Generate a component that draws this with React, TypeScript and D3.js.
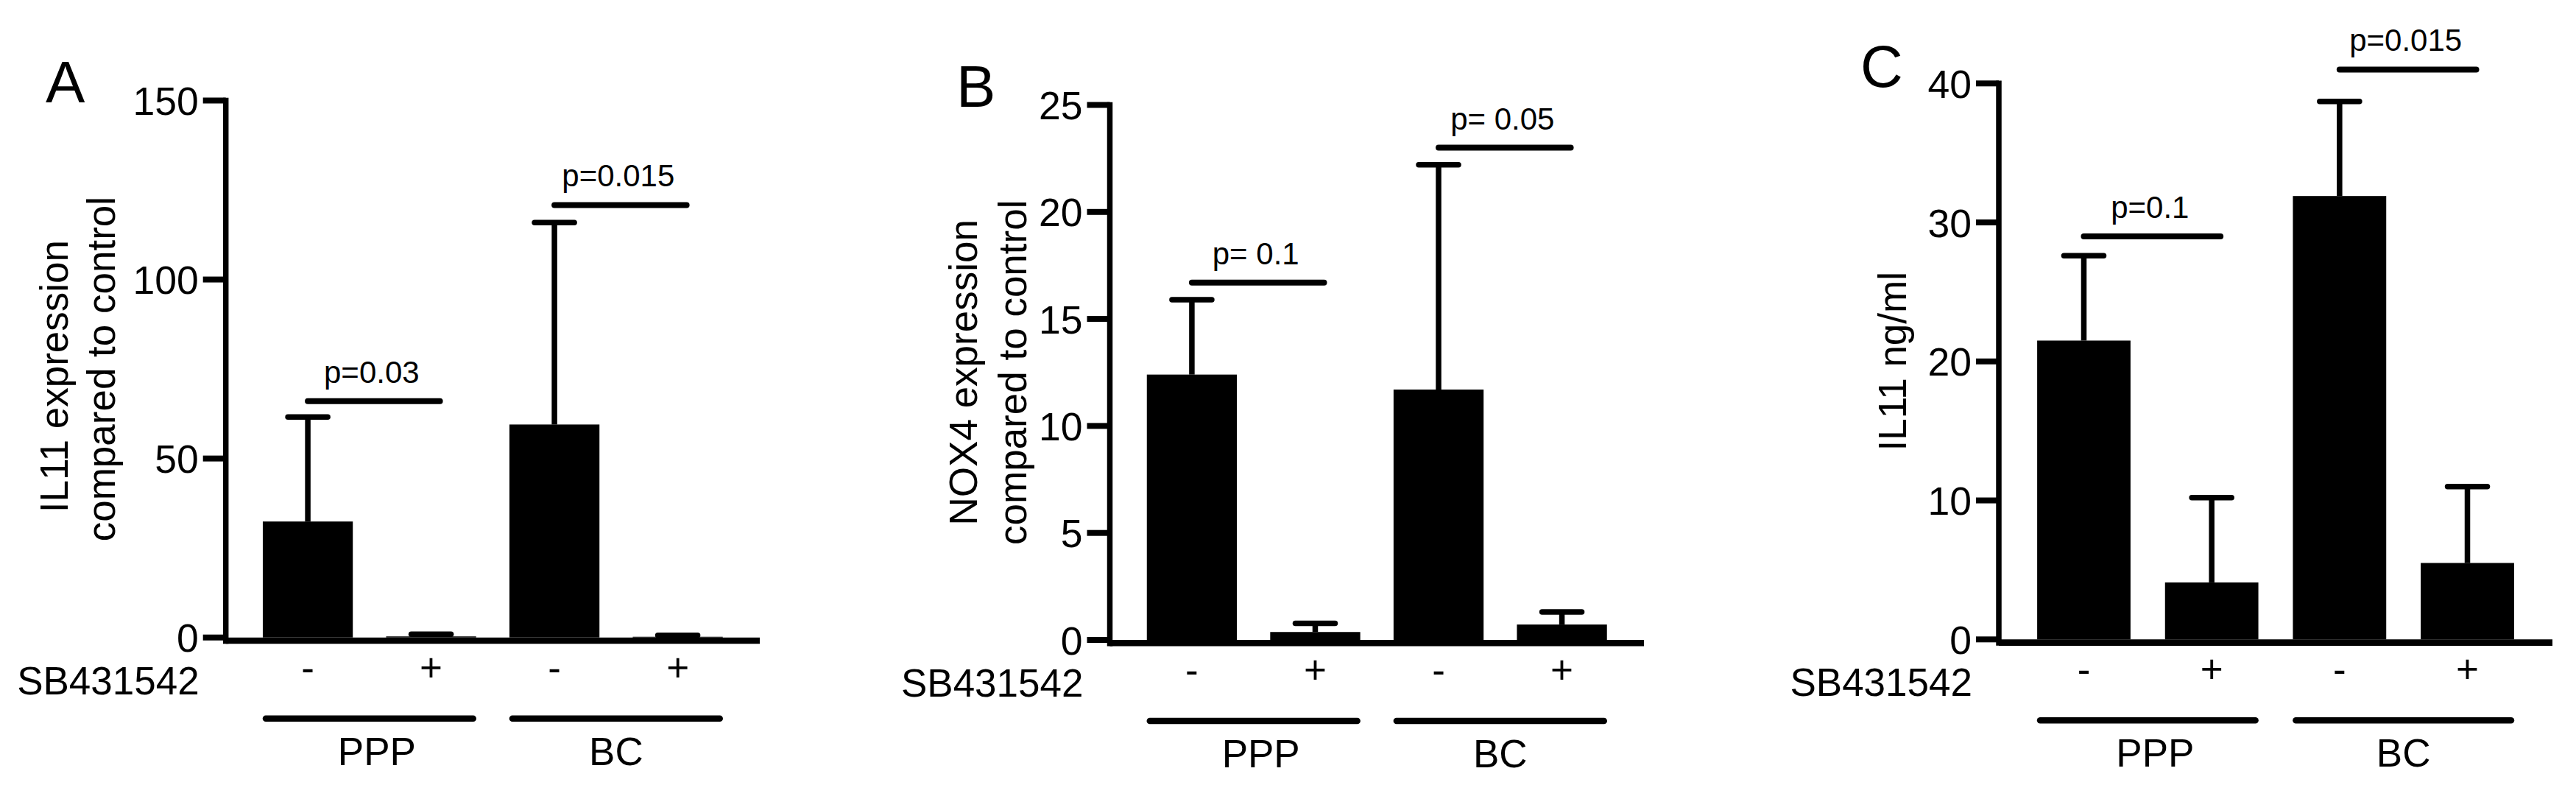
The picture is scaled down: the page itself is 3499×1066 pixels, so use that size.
import React from "react";
import * as d3 from "d3";

// ---------- data ----------
const treatments = ["-", "+", "-", "+"];
const groupNames = ["PPP", "BC"];
const sbLabel = "SB431542";

const aLabel = ["IL11 expression", "compared to control"];
const aTicks = [0, 50, 100, 150];
const aMeans = [32.4, 0.3, 59.5, 0.2];
const aUpper = [61.6, 0.9, 115.9, 0.6];
const aPText = ["p=0.03", "p=0.015"];
const aPLevel = [66, 120.8];

const bLabel = ["NOX4 expression", "compared to control"];
const bTicks = [0, 5, 10, 15, 20, 25];
const bMeans = [12.4, 0.37, 11.7, 0.72];
const bUpper = [15.9, 0.77, 22.2, 1.31];
const bPText = ["p= 0.1", "p= 0.05"];
const bPLevel = [16.7, 23.0];

const cLabel = ["IL11 ng/ml"];
const cTicks = [0, 10, 20, 30, 40];
const cMeans = [21.5, 4.1, 31.9, 5.5];
const cUpper = [27.6, 10.2, 38.7, 11.0];
const cPText = ["p=0.1", "p=0.015"];
const cPLevel = [29.0, 41.0];

// ---------- layout / style ----------
const FONT = "'Liberation Sans', Arial, Helvetica, sans-serif";
const LW = 7.5;

const panels = [
  {
    letter: "A", label: aLabel, ticks: aTicks, means: aMeans, upper: aUpper, pText: aPText, pLevel: aPLevel,
    axisX: 306.7, xEnd: 1032, yTop: 136.5, yZero: 865.7,
    letterX: 62, letterY: 139, labelX: [92, 156], labelDy: [10, 0],
  },
  {
    letter: "B", label: bLabel, ticks: bTicks, means: bMeans, upper: bUpper, pText: bPText, pLevel: bPLevel,
    axisX: 1507.5, xEnd: 2233, yTop: 142.5, yZero: 869,
    letterX: 1299, letterY: 145, labelX: [1327, 1394], labelDy: [0, 0],
  },
  {
    letter: "C", label: cLabel, ticks: cTicks, means: cMeans, upper: cUpper, pText: cPText, pLevel: cPLevel,
    axisX: 2715, xEnd: 3467, yTop: 113.3, yZero: 868.3,
    letterX: 2527, letterY: 118, labelX: [2589], labelDy: [0],
  },
];

function Panel({ p }: { p: any }) {
  const yMax = p.ticks[p.ticks.length - 1];
  const y = d3.scaleLinear().domain([0, yMax]).range([p.yZero, p.yTop]);
  const x = d3
    .scaleBand<number>()
    .domain(d3.range(4))
    .range([p.axisX, p.xEnd])
    .paddingInner(0.27)
    .paddingOuter(0.3);
  const bw = x.bandwidth();
  const cx = (i: number) => (x(i) as number) + bw / 2;
  const yMid = (p.yTop + p.yZero) / 2;

  return (
    <g fontFamily={FONT} fill="#000">
      {/* panel letter */}
      <text x={p.letterX} y={p.letterY} fontSize={80}>{p.letter}</text>

      {/* y label */}
      {p.label.map((t: string, i: number) => (
        <text
          key={t}
          transform={`translate(${p.labelX[i]},${yMid + p.labelDy[i]}) rotate(-90)`}
          textAnchor="middle"
          fontSize={53}
        >
          {t}
        </text>
      ))}

      {/* bars */}
      {p.means.map((m: number, i: number) => (
        <rect key={"b" + i} x={x(i)} y={y(m)} width={bw} height={p.yZero - y(m)} fill="#000" />
      ))}

      {/* error bars */}
      {p.upper.map((u: number, i: number) => (
        <g key={"e" + i} stroke="#000" strokeWidth={LW}>
          <line x1={cx(i)} x2={cx(i)} y1={y(p.means[i])} y2={y(u)} />
          <line x1={cx(i) - 27} x2={cx(i) + 27} y1={y(u)} y2={y(u)} strokeLinecap="round" />
        </g>
      ))}

      {/* y axis */}
      <line x1={p.axisX} x2={p.axisX} y1={p.yTop - LW / 2} y2={p.yZero + 8.5} stroke="#000" strokeWidth={LW} />
      {p.ticks.map((t: number) => (
        <g key={"t" + t}>
          <line x1={p.axisX - 31} x2={p.axisX} y1={y(t)} y2={y(t)} stroke="#000" strokeWidth={8} />
          <text x={p.axisX - 37} y={y(t) + 19.5} textAnchor="end" fontSize={53.5}>
            {t}
          </text>
        </g>
      ))}

      {/* x axis */}
      <line x1={p.axisX} x2={p.xEnd} y1={p.yZero + 4.3} y2={p.yZero + 4.3} stroke="#000" strokeWidth={8.6} />

      {/* treatment labels */}
      <text x={p.axisX - 36} y={p.yZero + 77} textAnchor="end" fontSize={53}>{sbLabel}</text>
      {treatments.map((t, i) => (
        <text key={"tr" + i} x={cx(i)} y={p.yZero + 59} textAnchor="middle" fontSize={53}>
          {t}
        </text>
      ))}

      {/* group lines & labels */}
      {groupNames.map((g, gi) => {
        const x1 = x(gi * 2) as number;
        const x2 = (x(gi * 2 + 1) as number) + bw;
        return (
          <g key={g}>
            <line x1={x1 + 4} x2={x2 - 4} y1={p.yZero + 110} y2={p.yZero + 110} stroke="#000" strokeWidth={8.5} strokeLinecap="round" />
            <text x={(x1 + x2) / 2 + (gi === 0 ? 10 : 0)} y={p.yZero + 173} textAnchor="middle" fontSize={53}>
              {g}
            </text>
          </g>
        );
      })}

      {/* p-value brackets */}
      {p.pText.map((t: string, gi: number) => {
        const c1 = cx(gi * 2);
        const c2 = cx(gi * 2 + 1);
        const ly = y(p.pLevel[gi]);
        return (
          <g key={"p" + gi}>
            <line x1={c1} x2={c2 + 12} y1={ly} y2={ly} stroke="#000" strokeWidth={8} strokeLinecap="round" />
            <text x={(c1 + c2) / 2 + 3} y={ly - 25} textAnchor="middle" fontSize={42}>
              {t}
            </text>
          </g>
        );
      })}
    </g>
  );
}

export default function App() {
  return (
    <svg
      width={3499}
      height={1066}
      viewBox="0 0 3499 1066"
      style={{ position: "absolute", left: 0, top: 0, background: "#fff", display: "block" }}
    >
      <rect x={0} y={0} width={3499} height={1066} fill="#fff" />
      {panels.map((p) => (
        <Panel key={p.letter} p={p} />
      ))}
    </svg>
  );
}
